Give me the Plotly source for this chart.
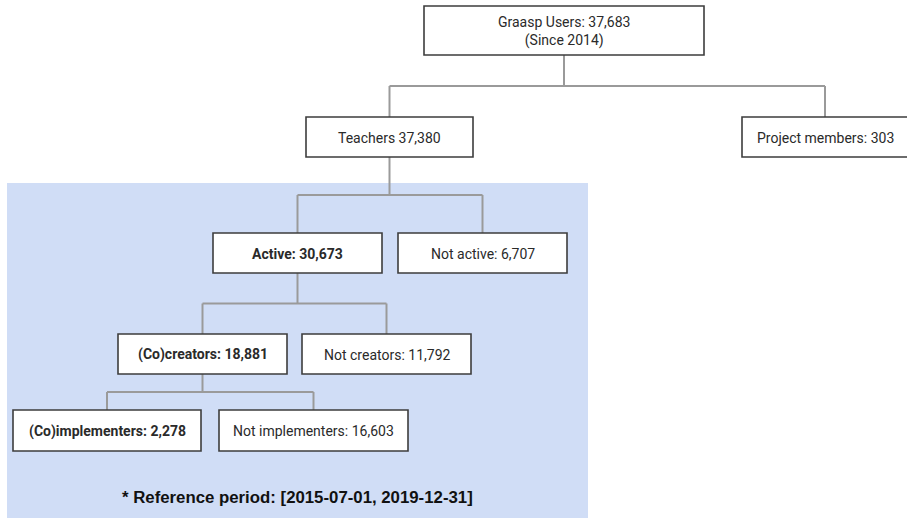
import plotly.graph_objects as go

# ---- data ----
node_ids = ["root", "teachers", "project", "active", "notactive",
            "creators", "notcreators", "implementers", "notimplementers"]
node_names = ["Graasp Users", "Teachers", "Project members", "Active", "Not active",
              "(Co)creators", "Not creators", "(Co)implementers", "Not implementers"]
node_counts = [37683, 37380, 303, 30673, 6707, 18881, 11792, 2278, 16603]
node_parents = [None, "root", "root", "teachers", "teachers",
                "active", "active", "creators", "creators"]
node_separators = [": ", " ", ": ", ": ", ": ", ": ", ": ", ": ", ": "]
node_notes = ["(Since 2014)", "", "", "", "", "", "", "", ""]
footnote = "* Reference period: [2015-07-01, 2019-12-31]"

# ---- layout (pixel-space boxes: x0, x1, y0, y1) ----
box_pos = {
    "root": (424, 704, 6, 55),
    "teachers": (306, 473, 117, 157),
    "project": (742, 908, 117, 157),
    "active": (213, 382, 233, 273),
    "notactive": (398, 567, 233, 273),
    "creators": (118, 287, 334, 374),
    "notcreators": (302, 471, 334, 374),
    "implementers": (13, 201, 410, 451),
    "notimplementers": (219, 408, 410, 451),
}
bold_nodes = {"active", "creators", "implementers"}
W, H = 907, 518
LINE_COLOR = "#9a9a9a"
BOX_BORDER = "#3d3d3d"
BLUE = "#d0ddf6"
FONT = "Roboto"

fig = go.Figure()

# connectors
xs, ys = [], []
for pid in node_ids:
    kids = [c for c, p in zip(node_ids, node_parents) if p == pid]
    if not kids:
        continue
    px0, px1, py0, py1 = box_pos[pid]
    pcx = (px0 + px1) / 2
    child_top = min(box_pos[k][2] for k in kids)
    bus = (py1 + child_top) / 2
    xs += [pcx, pcx, None]
    ys += [py1, bus, None]
    kcx = [(box_pos[k][0] + box_pos[k][1]) / 2 for k in kids]
    xs += [min(kcx), max(kcx), None]
    ys += [bus, bus, None]
    for k, cx in zip(kids, kcx):
        xs += [cx, cx, None]
        ys += [bus, box_pos[k][2], None]

fig.add_trace(go.Scatter(x=xs, y=ys, mode="lines",
                         line=dict(color=LINE_COLOR, width=2),
                         hoverinfo="skip", showlegend=False))

shapes = [dict(type="rect", xref="x", yref="y", x0=7, x1=588, y0=183, y1=H,
               fillcolor=BLUE, line=dict(width=0), layer="below")]
annotations = []
for nid, name, cnt, sep, note in zip(node_ids, node_names, node_counts,
                                     node_separators, node_notes):
    x0, x1, y0, y1 = box_pos[nid]
    shapes.append(dict(type="rect", xref="x", yref="y", x0=x0, x1=x1, y0=y0, y1=y1,
                       fillcolor="white", line=dict(color=BOX_BORDER, width=1.6),
                       layer="above"))
    text = f"{name}{sep}{cnt:,}"
    if nid in bold_nodes:
        text = f"<b>{text}</b>"
    if note:
        text += f"<br>{note}"
    annotations.append(dict(x=(x0 + x1) / 2, y=(y0 + y1) / 2 + 0.5, xref="x", yref="y",
                            text=text, showarrow=False,
                            font=dict(family=FONT, size=14, color="#2a2a2a"),
                            xanchor="center", yanchor="middle", align="center"))

annotations.append(dict(x=297, y=497, xref="x", yref="y", text=f"<b>{footnote}</b>",
                        showarrow=False,
                        font=dict(family="Liberation Sans, Arial", size=16.8, color="#111111"),
                        xanchor="center", yanchor="middle"))

fig.update_layout(
    width=W, height=H, autosize=False,
    margin=dict(l=0, r=0, t=0, b=0),
    paper_bgcolor="white", plot_bgcolor="white",
    xaxis=dict(range=[0, W], visible=False, fixedrange=True),
    yaxis=dict(range=[H, 0], visible=False, fixedrange=True),
    shapes=shapes, annotations=annotations, showlegend=False,
)

fig.write_html("out.html", config={"displayModeBar": False},
               post_script="document.body.style.margin='0px';document.body.style.overflow='hidden';")
